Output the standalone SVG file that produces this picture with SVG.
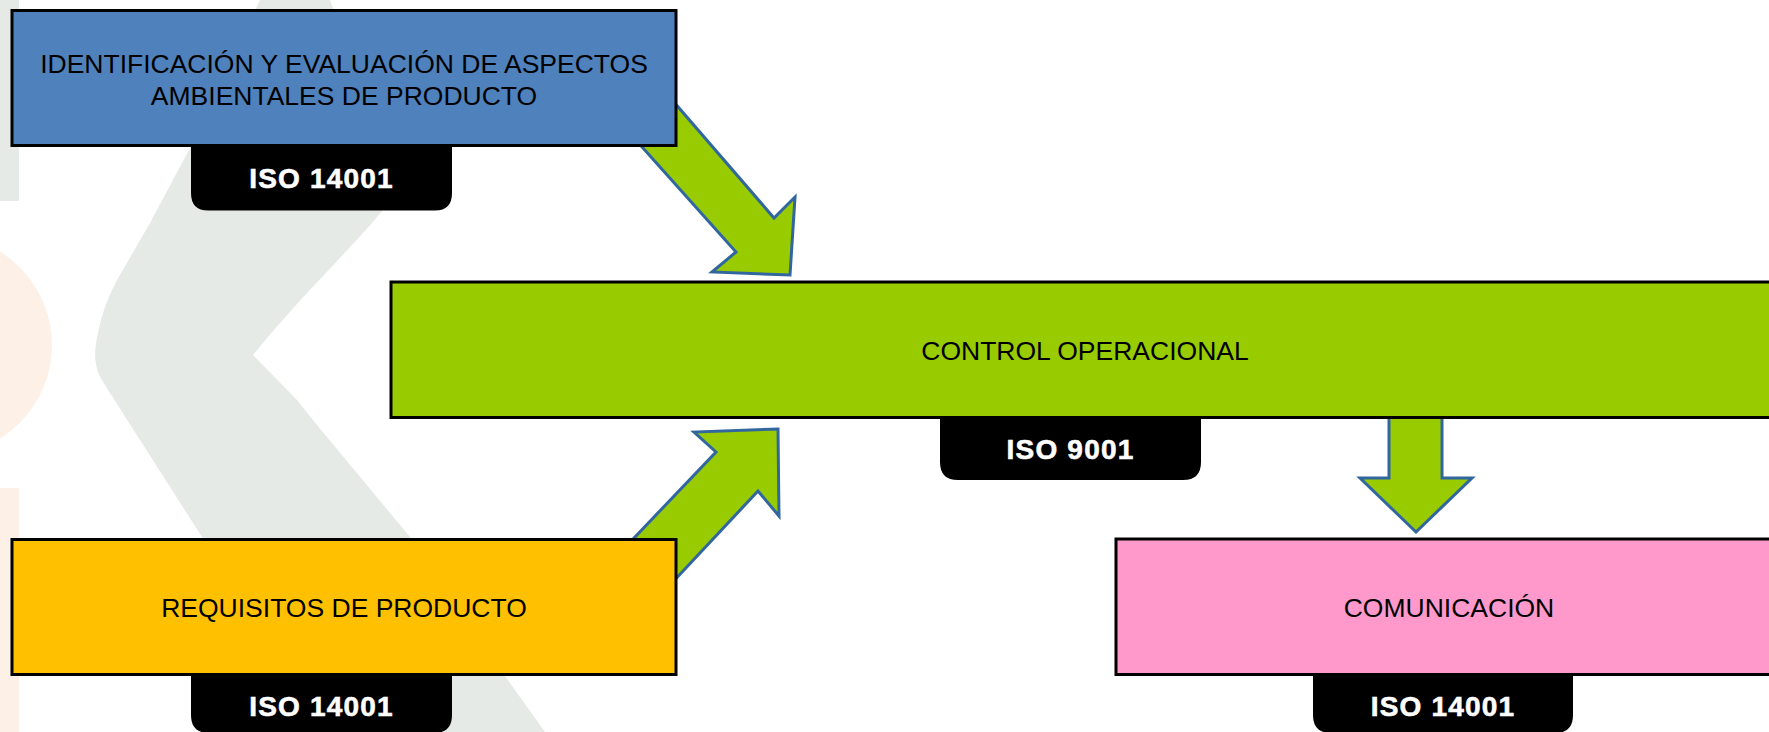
<svg xmlns="http://www.w3.org/2000/svg" width="1769" height="732" viewBox="0 0 1769 732">
<style>
.box{stroke:#000;stroke-width:3}
.lbl{font-family:"Liberation Sans",Arial,sans-serif;font-size:26.5px;fill:#000;text-anchor:middle}
.tab{fill:#000}
.tabt{font-family:"Liberation Sans",Arial,sans-serif;font-size:28px;font-weight:bold;fill:#fff;stroke:#fff;stroke-width:0.6;text-anchor:middle;letter-spacing:1.2px}
.arrow{fill:#99CC00;stroke:#31679E;stroke-width:3;stroke-linejoin:miter}
.wm-g{fill:#E6EAE6}
.wm-p{fill:#FDF0E6}
</style>
<rect width="1769" height="732" fill="#fff"/>
<g id="background">
<rect class="wm-g" x="0" y="0" width="19" height="201"/>
<circle class="wm-p" cx="-58" cy="345" r="110"/>
<rect class="wm-p" x="0" y="488" width="19" height="244"/>
<path class="wm-g" d="M260,0 L330,0 C350,60 400,130 405,180 C400,200 392,205 383,210 C350,250 300,297 253,355 L297,400 L317,425 L410,537 L505,676 L545,732 L335,732 L202,537 L140,440 L103,382 C93,366 94,350 98,333 C104,305 112,290 117,280 L150,223 L190,148 Z"/>
</g>
<g id="connectors">
<path class="arrow" d="M592,91 L736,252 L712,272 L790,275 L795,197 L774,218 L629,50 Z"/>
<path class="arrow" d="M595,579 L716,452 L694,432 L778,429 L779,516 L758,491 L640,617 Z"/>
<path class="arrow" d="M1389,400 L1389,478 L1360,478 L1416,532 L1472,478 L1442,478 L1442,400 Z"/>
</g>
<g id="node-identificacion">
<rect class="box" x="12" y="10.5" width="664" height="135" fill="#4F81BD"/>
<text class="lbl" x="344" y="72.5">IDENTIFICACIÓN Y EVALUACIÓN DE ASPECTOS</text>
<text class="lbl" x="344" y="104.5">AMBIENTALES DE PRODUCTO</text>
<path class="tab" d="M191,147 V193 Q191,210.5 208,210.5 H435 Q452,210.5 452,193 V147 Z"/>
<text class="tabt" x="321.5" y="188">ISO 14001</text>
</g>
<g id="node-control">
<rect class="box" x="391" y="282" width="1400" height="135.5" fill="#99CC00"/>
<text class="lbl" x="1085" y="360">CONTROL OPERACIONAL</text>
<path class="tab" d="M940,419 V462 Q940,480 958,480 H1183 Q1201,480 1201,462 V419 Z"/>
<text class="tabt" x="1070.5" y="459">ISO 9001</text>
</g>
<g id="node-requisitos">
<rect class="box" x="12" y="539.5" width="664" height="135" fill="#FFC000"/>
<text class="lbl" x="344" y="617">REQUISITOS DE PRODUCTO</text>
<path class="tab" d="M191,676 V715 Q191,733 209,733 H434 Q452,733 452,715 V676 Z"/>
<text class="tabt" x="321.5" y="716">ISO 14001</text>
</g>
<g id="node-comunicacion">
<rect class="box" x="1116" y="539" width="700" height="135.5" fill="#FF99CC"/>
<text class="lbl" x="1449" y="617">COMUNICACIÓN</text>
<path class="tab" d="M1313,676 V715 Q1313,733 1331,733 H1555 Q1573,733 1573,715 V676 Z"/>
<text class="tabt" x="1443" y="716">ISO 14001</text>
</g>
</svg>
